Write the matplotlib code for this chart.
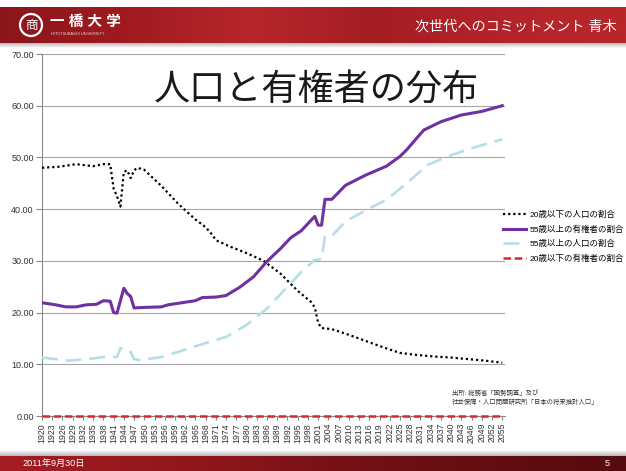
import numpy as np
import matplotlib.pyplot as plt
from matplotlib.colors import LinearSegmentedColormap
from matplotlib.patches import Circle

plt.rcParams['font.family'] = ['Liberation Sans', 'Noto Sans CJK JP']

# 20歳以下の人口の割合
years_u20 = [1920, 1925, 1930, 1935, 1938, 1940, 1941, 1942, 1943, 1944, 1945,
             1946, 1947, 1948, 1950, 1955, 1960, 1965, 1968, 1970, 1971, 1975,
             1980, 1985, 1990, 1995, 1999, 2000, 2001, 2002, 2005, 2010, 2015,
             2020, 2025, 2030, 2035, 2040, 2045, 2050, 2055]
pop_u20 = [48.0, 48.2, 48.7, 48.3, 48.7, 48.7, 44.0, 42.5, 40.5, 47.2, 47.5,
           46.0, 47.5, 48.0, 47.6, 44.5, 41.0, 38.0, 36.5, 35.0, 34.0, 32.8,
           31.5, 30.0, 27.5, 24.2, 22.0, 21.0, 18.0, 17.0, 16.8, 15.7, 14.5,
           13.3, 12.2, 11.8, 11.5, 11.3, 11.0, 10.7, 10.3]

# 55歳以上の有権者の割合
years_v55 = [1920, 1924, 1927, 1930, 1933, 1936, 1938, 1940, 1941, 1942, 1944,
             1945, 1946, 1947, 1950, 1955, 1957, 1960, 1965, 1967, 1971, 1974,
             1978, 1982, 1986, 1990, 1993, 1996, 2000, 2001, 2002, 2003, 2005,
             2009, 2015, 2021, 2025, 2027, 2030, 2032, 2037, 2043, 2049, 2055]
voter_55 = [21.9, 21.5, 21.1, 21.1, 21.5, 21.6, 22.3, 22.2, 20.0, 19.9, 24.7,
            23.7, 23.1, 20.9, 21.0, 21.1, 21.5, 21.8, 22.3, 22.9, 23.0, 23.3,
            24.9, 26.9, 29.9, 32.4, 34.5, 35.8, 38.6, 36.9, 36.9, 41.9, 41.9,
            44.6, 46.6, 48.3, 50.2, 51.5, 53.8, 55.3, 56.9, 58.2, 58.9, 60.0]

# 55歳以上の人口の割合
years_p55 = [1920, 1924, 1928, 1933, 1937, 1939, 1942, 1943, 1944, 1945, 1946,
             1947, 1949, 1955, 1960, 1966, 1974, 1980, 1986, 1992, 1996, 2000,
             2002, 2003, 2005, 2009, 2015, 2021, 2027, 2033, 2039, 2046, 2055]
pop_55 = [11.3, 11.0, 10.7, 11.0, 11.3, 11.5, 11.4, 13.1, 12.9, 12.3, 12.4,
          11.0, 10.8, 11.4, 12.4, 13.7, 15.3, 17.6, 20.8, 25.0, 27.8, 30.2,
          30.3, 34.8, 34.8, 37.6, 39.8, 41.8, 45.0, 48.5, 50.2, 51.8, 53.5]

# 20歳以下の有権者の割合
years_vu20 = [1920, 2055]
voter_u20 = [0.0, 0.0]

tick_years = list(range(1920, 2056, 3))
y_ticks = [0, 10, 20, 30, 40, 50, 60, 70]

fig = plt.figure(figsize=(6.26, 4.71), dpi=100)

# slide background: header and footer bands
bg = fig.add_axes([0, 0, 1, 1], zorder=-1)
bg.set_xlim(0, 626)
bg.set_ylim(471, 0)
bg.axis('off')
grad = np.linspace(0, 1, 256).reshape(1, -1)
head_cmap = LinearSegmentedColormap.from_list(
    'head', ['#8a161b', '#a01a20', '#b7272c', '#a41d23', '#b3242a', '#b9272b'])
foot_cmap = LinearSegmentedColormap.from_list(
    'foot', ['#a51d23', '#8e161b', '#6a0f13', '#560b0e'])
shade_cmap = LinearSegmentedColormap.from_list('shade', ['#b8b8b8', '#ffffff'])
bg.imshow(grad, extent=[0, 626, 43, 7], cmap=head_cmap, aspect='auto')
bg.imshow(np.linspace(0, 1, 32).reshape(-1, 1), extent=[0, 626, 48, 43],
          cmap=shade_cmap, aspect='auto')
bg.imshow(np.linspace(1, 0, 32).reshape(-1, 1), extent=[0, 626, 456, 450],
          cmap=shade_cmap, aspect='auto')
bg.imshow(grad, extent=[0, 626, 471, 456], cmap=foot_cmap, aspect='auto')
bg.add_patch(Circle((31, 25), 11, fill=False, ec='white', lw=1.6))
bg.text(31, 25.5, '商', color='white', fontsize=9, ha='center', va='center')
bg.text(50, 22, '一 橋 大 学', color='white', fontsize=10.5, fontweight='bold',
        ha='left', va='center')
bg.text(51, 34, 'HITOTSUBASHI UNIVERSITY', color='#f0d0d0', fontsize=2.8,
        ha='left', va='center')
bg.text(617, 27, '次世代へのコミットメント 青木', color='white', fontsize=10.2,
        ha='right', va='center')
bg.text(22, 463, '2011年9月30日', color='white', fontsize=6.6, ha='left', va='center')
bg.text(610, 463, '5', color='white', fontsize=6.6, ha='right', va='center')

# chart
ax = fig.add_axes([42 / 626, 55 / 471, 463 / 626, 362 / 471])
ax.set_facecolor('none')

ax.plot(years_u20, pop_u20, color='black', lw=1.6, dashes=(1, 1.3),
        label='20歳以下の人口の割合', zorder=4)
ax.plot(years_v55, voter_55, color='#7030a0', lw=2.2,
        label='55歳以上の有権者の割合', zorder=5)
ax.plot(years_p55, pop_55, color='#b7dee8', lw=1.9, dashes=(6, 3),
        label='55歳以上の人口の割合', zorder=3)
ax.plot(years_vu20, voter_u20, color='#d42a2e', lw=1.8, dashes=(3, 1.5),
        label='20歳以下の有権者の割合', zorder=6, clip_on=False)

ax.set_xlim(1920, 2055.8)
ax.set_ylim(0, 70)
ax.set_yticks(y_ticks)
ax.set_yticklabels([f'{v:.2f}' for v in y_ticks])
ax.set_xticks(tick_years)
ax.set_xticklabels([str(y) for y in tick_years], rotation=90)
ax.tick_params(axis='y', labelsize=6.5, labelcolor='#333333', length=4,
               color='#888888', pad=2)
ax.tick_params(axis='x', labelsize=6.3, labelcolor='#333333', length=3,
               color='#888888', pad=2)
ax.grid(axis='y', color='#a6a6a6', lw=0.8)
ax.set_axisbelow(True)
for side in ['top', 'right']:
    ax.spines[side].set_visible(False)
ax.spines['left'].set_color('#888888')
ax.spines['bottom'].set_color('#888888')

fig.legend(loc='upper left', bbox_to_anchor=(500 / 626, 1 - 208 / 471),
           frameon=False, fontsize=6.1, handlelength=2.7, handletextpad=0.4,
           labelspacing=0.72, borderaxespad=0)

fig.text(316 / 626, 1 - 90 / 471, '人口と有権者の分布', fontsize=26,
         ha='center', va='center', color='#1a1a1a')
fig.text(452 / 626, 1 - 393 / 471, '出所: 総務省「国勢調査」及び', fontsize=4.6,
         ha='left', va='center', color='#333333')
fig.text(452 / 626, 1 - 402 / 471, '社会保障・人口問題研究所「日本の将来推計人口」',
         fontsize=4.6, ha='left', va='center', color='#333333')

fig.savefig('out.png', dpi=100)
